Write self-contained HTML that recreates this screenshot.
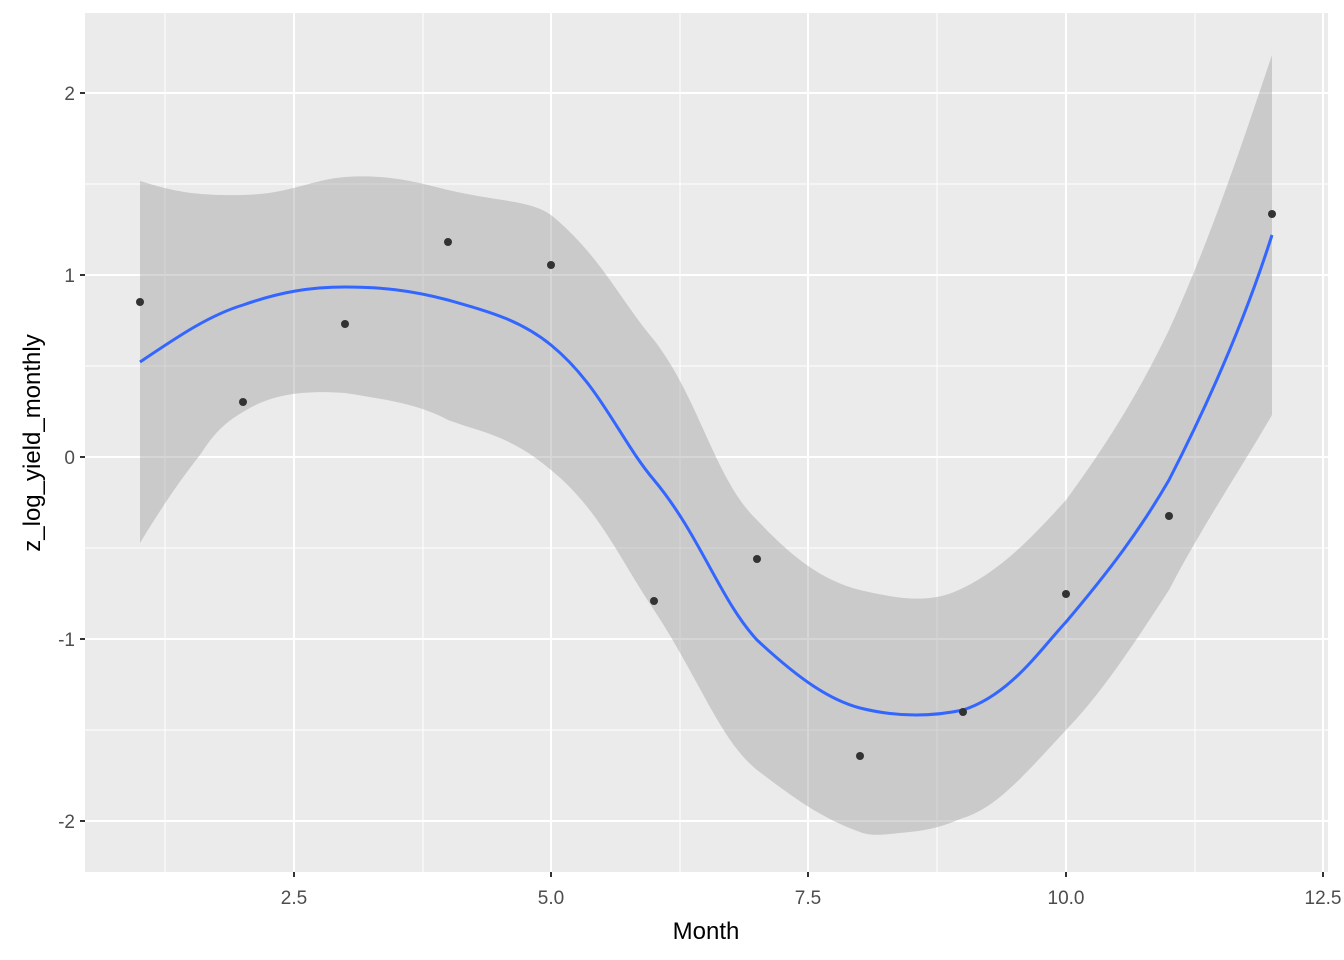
<!DOCTYPE html>
<html><head><meta charset="utf-8"><style>body{margin:0;background:#fff}svg{display:block}</style></head><body>
<svg width="1344" height="960" xmlns="http://www.w3.org/2000/svg" font-family="Liberation Sans, sans-serif">
<rect x="0" y="0" width="1344" height="960" fill="#fff"/>
<rect x="85" y="13" width="1243" height="859" fill="#ebebeb"/>
<g stroke="#fff" stroke-width="1">
<line x1="85" x2="1328" y1="184" y2="184"/><line x1="85" x2="1328" y1="366" y2="366"/><line x1="85" x2="1328" y1="548" y2="548"/><line x1="85" x2="1328" y1="730" y2="730"/>
<line y1="13" y2="872" x1="165" x2="165"/><line y1="13" y2="872" x1="423" x2="423"/><line y1="13" y2="872" x1="680" x2="680"/><line y1="13" y2="872" x1="937" x2="937"/><line y1="13" y2="872" x1="1195" x2="1195"/>
</g>
<g stroke="#fff" stroke-width="2">
<line x1="85" x2="1328" y1="93" y2="93"/><line x1="85" x2="1328" y1="275" y2="275"/><line x1="85" x2="1328" y1="457" y2="457"/><line x1="85" x2="1328" y1="639" y2="639"/><line x1="85" x2="1328" y1="821" y2="821"/>
<line y1="13" y2="872" x1="294" x2="294"/><line y1="13" y2="872" x1="551" x2="551"/><line y1="13" y2="872" x1="808" x2="808"/><line y1="13" y2="872" x1="1066" x2="1066"/><line y1="13" y2="872" x1="1323" x2="1323"/>
</g>
<path d="M140,181 C170,190 190,196 243,195 C290,194 310,180 345,177 C390,174 420,183 448,190 C500,202 530,200 551,215 C600,255 620,300 654,340 C700,400 715,480 757,520 C790,555 820,580 860,590 C890,597 910,600 930,598 C945,596 950,594 963,588 C1000,570 1030,540 1066,500 C1110,440 1140,390 1169,330 C1210,240 1240,150 1272,55 L1272,415 C1240,470 1200,530 1169,590 C1130,650 1100,695 1066,730 C1020,780 995,808 963,818 C945,825 935,830 900,833 C880,835 870,836 860,832 C820,818 790,795 757,770 C720,740 700,680 654,610 C620,560 600,510 551,470 C510,435 480,432 448,420 C420,405 390,400 345,393 C300,390 270,395 243,412 C220,425 210,440 200,455 C180,480 160,510 140,543 Z" fill="#999" fill-opacity="0.4"/>
<path d="M140,362 C180,335 210,315 243,305 C280,292 310,287 345,287 C380,287 410,290 448,300 C490,312 520,320 551,345 C600,385 620,440 654,480 C700,535 720,600 757,640 C800,680 830,700 860,708 C900,718 935,716 963,710 C1010,695 1040,650 1066,622 C1110,570 1140,530 1169,480 C1210,400 1245,320 1272,235" fill="none" stroke="#3366ff" stroke-width="3"/>
<g fill="#333">
<circle cx="140" cy="302" r="4"/><circle cx="243" cy="402" r="4"/><circle cx="345" cy="324" r="4"/><circle cx="448" cy="242" r="4"/><circle cx="551" cy="265" r="4"/><circle cx="654" cy="601" r="4"/><circle cx="757" cy="559" r="4"/><circle cx="860" cy="756" r="4"/><circle cx="963" cy="712" r="4"/><circle cx="1066" cy="594" r="4"/><circle cx="1169" cy="516" r="4"/><circle cx="1272" cy="214" r="4"/>
</g>
<g stroke="#333" stroke-width="2">
<line x1="80" x2="85" y1="93" y2="93"/><line x1="80" x2="85" y1="275" y2="275"/><line x1="80" x2="85" y1="457" y2="457"/><line x1="80" x2="85" y1="639" y2="639"/><line x1="80" x2="85" y1="821" y2="821"/>
<line y1="872" y2="877" x1="294" x2="294"/><line y1="872" y2="877" x1="551" x2="551"/><line y1="872" y2="877" x1="808" x2="808"/><line y1="872" y2="877" x1="1066" x2="1066"/><line y1="872" y2="877" x1="1323" x2="1323"/>
</g>
<g fill="#4d4d4d" font-size="19" text-anchor="end">
<text x="75" y="100">2</text><text x="75" y="282">1</text><text x="75" y="464">0</text><text x="75" y="646">-1</text><text x="75" y="828">-2</text>
</g>
<g fill="#4d4d4d" font-size="19" text-anchor="middle">
<text x="294" y="904">2.5</text><text x="551" y="904">5.0</text><text x="808" y="904">7.5</text><text x="1066" y="904">10.0</text><text x="1323" y="904">12.5</text>
</g>
<text x="706" y="939" font-size="24" text-anchor="middle" fill="#000">Month</text>
<text transform="translate(40,443) rotate(-90)" font-size="24" text-anchor="middle" fill="#000">z_log_yield_monthly</text>
</svg>
</body></html>
